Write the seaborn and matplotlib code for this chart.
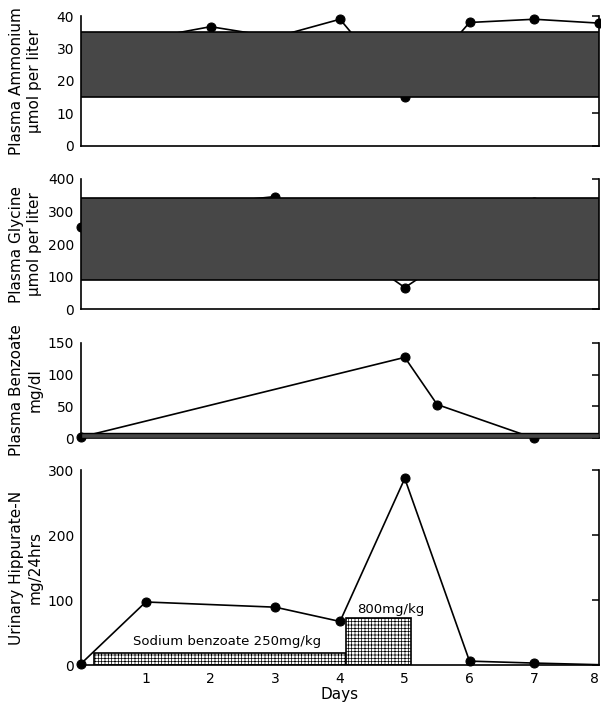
import numpy as np
import pandas as pd
import matplotlib
matplotlib.use("Agg")
import matplotlib.pyplot as plt
import seaborn as sns

# ---------------- data ----------------
amm_days = [1, 2, 3, 4, 5, 6, 7, 8]
amm_vals = [33, 36.7, 33.5, 39, 15, 38, 39, 37.8]
amm_band = (15, 35)

gly_days = [0, 2, 3, 5, 7]
gly_vals = [253, 325, 346, 66, 330]
gly_band = (90, 340)

benz_days = [0, 5, 5.5, 7]
benz_vals = [2, 127, 53, 0]
benz_band = (0, 9)

hip_days = [0, 1, 3, 4, 5, 6, 7, 8]
hip_vals = [2, 97, 89, 67, 287, 6, 3, 0.5]

dose_start = [0.2, 4.1]
dose_end = [4.1, 5.1]
dose_level = [19, 72]
dose_labels = ["Sodium benzoate 250mg/kg", "800mg/kg"]

day_ticks = [0, 1, 2, 3, 4, 5, 6, 7, 8]
day_labels = ["", "1", "2", "3", "4", "5", "6", "7", "8"]

amm_yticks = [0, 10, 20, 30, 40]
gly_yticks = [0, 100, 200, 300, 400]
benz_yticks = [0, 50, 100, 150]
hip_yticks = [0, 100, 200, 300]

ylabels = [("Plasma Ammonium", "µmol per liter"),
           ("Plasma Glycine", "µmol per liter"),
           ("Plasma Benzoate", "mg/dl"),
           ("Urinary Hippurate-N", "mg/24hrs")]

# ---------------- style ----------------
sns.set_style("white")
plt.rcParams["font.family"] = ["DejaVu Sans"]
plt.rcParams["hatch.linewidth"] = 0.5
plt.rcParams["hatch.color"] = "black"
for k in ["text.color", "axes.labelcolor", "xtick.color", "ytick.color"]:
    plt.rcParams[k] = "black"

fig = plt.figure(figsize=(6.01, 7.05), dpi=100)
L, W = 0.1348, 0.8619
rects = [
    [L, 0.7936, W, 0.1837],
    [L, 0.5617, W, 0.1844],
    [L, 0.3783, W, 0.1356],
    [L, 0.0567, W, 0.2766],
]
axes = [fig.add_axes(r) for r in rects]

band_color = "#474747"

def style_axis(ax, yticks, ylim):
    ax.set_xlim(0, 8)
    ax.set_ylim(*ylim)
    ax.set_xticks(day_ticks)
    ax.set_yticks(yticks)
    for s in ["left", "right", "bottom"]:
        ax.spines[s].set_visible(True)
        ax.spines[s].set_color("black")
        ax.spines[s].set_linewidth(1.2)
    ax.spines["top"].set_visible(False)
    ax.tick_params(axis="both", direction="in", length=5, width=1.1,
                   color="black", labelcolor="black", labelsize=10, pad=5)
    ax.tick_params(axis="y", right=True, labelright=False)
    ax.tick_params(axis="x", top=False)
    ax.set_xlabel("")
    ax.set_ylabel("")
    ax.grid(False)
    ax.set_facecolor("white")

def draw_series(ax, days, vals, markevery=None):
    df = pd.DataFrame({"day": days, "val": vals})
    sns.lineplot(data=df, x="day", y="val", ax=ax, color="black",
                 linewidth=1.2, marker="o", markersize=6.5,
                 markeredgecolor="black", markevery=markevery,
                 zorder=2, clip_on=False)

# Panel 1: ammonium
ax = axes[0]
draw_series(ax, amm_days, amm_vals)
ax.axhspan(*amm_band, facecolor=band_color, edgecolor="black", lw=1.2, zorder=3)
style_axis(ax, amm_yticks, (0, 40))
ax.set_xticklabels([])

# Panel 2: glycine
ax = axes[1]
draw_series(ax, gly_days, gly_vals)
ax.axhspan(*gly_band, facecolor=band_color, edgecolor="black", lw=1.2, zorder=3)
style_axis(ax, gly_yticks, (0, 400))
ax.set_xticklabels([])

# Panel 3: benzoate
ax = axes[2]
draw_series(ax, benz_days, benz_vals)
ax.axhspan(*benz_band, facecolor=band_color, edgecolor="black", lw=1.0, zorder=3)
style_axis(ax, benz_yticks, (0, 150))
ax.set_xticklabels([])

# Panel 4: urinary hippurate
ax = axes[3]
widths = [e - s for s, e in zip(dose_start, dose_end)]
ax.bar(dose_start, dose_level, width=widths, align="edge", facecolor="white",
       edgecolor="black", hatch="+++++", linewidth=1.2, zorder=1)
draw_series(ax, hip_days, hip_vals, markevery=list(range(len(hip_days) - 1)))
style_axis(ax, hip_yticks, (0, 300))
ax.set_xticklabels(day_labels)
last = ax.get_xticklabels()[-1]
last.set_horizontalalignment("right")
ax.set_xlabel("Days", fontsize=11, labelpad=1)
ax.text((dose_start[0] + dose_end[0]) / 2 + 0.1, 36, dose_labels[0],
        ha="center", va="center", fontsize=9.5)
ax.text(4.78, 86, dose_labels[1], ha="center", va="center", fontsize=9.5)

# y labels
for ax, (l1, l2) in zip(axes, ylabels):
    pos = ax.get_position()
    yc = pos.y0 + pos.height / 2
    fig.text(17 / 601, yc, l1, rotation=90, ha="center", va="center", fontsize=11)
    fig.text(35 / 601, yc, l2, rotation=90, ha="center", va="center", fontsize=11)

fig.savefig("out.png", dpi=100, facecolor="white")
